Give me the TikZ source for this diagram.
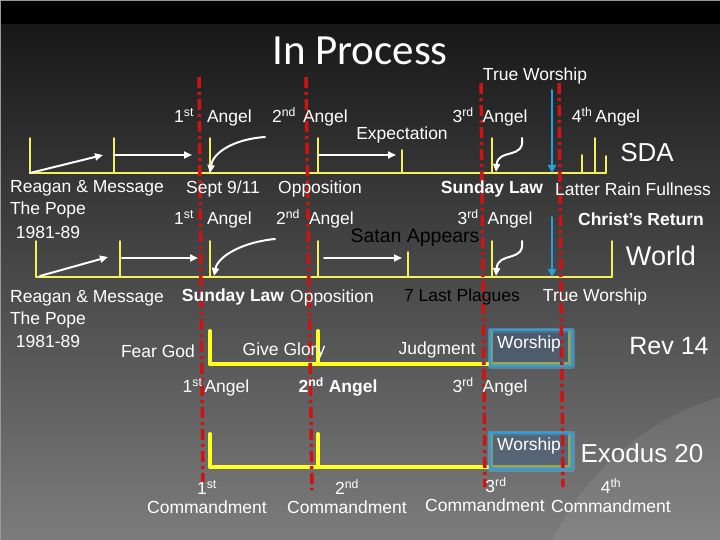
\documentclass[tikz,border=0pt]{standalone}
\usepackage{fontspec}
\setmainfont{Liberation Sans}
\newfontfamily\titlefont{Carlito}
\usetikzlibrary{arrows.meta,positioning}
\definecolor{tlbgtop}{HTML}{181818}
\definecolor{tlbgbot}{HTML}{7C7C7C}
\definecolor{tlyellow}{HTML}{F4F05A}
\definecolor{tlbright}{HTML}{FFFF22}
\definecolor{tlred}{HTML}{D01212}
\definecolor{tlblue}{HTML}{2C9EE0}
\definecolor{tlbox}{HTML}{46607E}
\tikzset{
  every picture/.append style={line cap=round,line join=round},
  tl track/.style={tlyellow,line width=1.8pt},
  tl bold track/.style={tlbright,line width=4pt},
  tl guide/.style={tlred,line width=3.5pt,line cap=butt,dash pattern=on 11pt off 4pt on 3pt off 4pt},
  tl move/.style={white,line width=2pt,-{Triangle[length=8pt,width=7pt]}},
  tl fall/.style={tlblue,line width=2pt,-{Triangle[length=8pt,width=8pt]}},
  tl text/.style={text=white,font=\fontsize{17.5}{19}\selectfont,inner sep=0pt,align=center},
  tl strong/.style={tl text,font=\fontsize{17.5}{19}\selectfont\bfseries},
  tl dark/.style={tl text,text=black},
  tl big/.style={text=white,font=\fontsize{26}{30}\selectfont,inner sep=0pt},
  tl worship/.style={draw=tlblue,line width=1.6pt,fill=tlbox,fill opacity=.55,inner sep=0pt,
    minimum width=82pt,minimum height=36pt,preaction={draw=tlblue!70,line width=5pt,draw opacity=.4}}
}
\newcommand\ordl[2]{#1\textsuperscript{#2}}

\begin{document}
\begin{tikzpicture}[x=1pt,y=-1pt]
  \useasboundingbox (0,0) rectangle (720,540);
  % backdrop
  \fill[black] (0,0) rectangle (720,25);
  \shade[top color=tlbgtop,bottom color=tlbgbot] (0,25) rectangle (720,540);
  \begin{scope}
    \clip (0,25) rectangle (720,540);
    \fill[white,opacity=.07] (800,660) circle (275);
  \end{scope}
  \draw[gray!80,line width=1.5pt] (0,540) -- (0,0) -- (720,0);

  % the four tracks
  \draw[tl track] (30,173) -- (606,173);
  \foreach \x/\t in {30/138,114/138,210/138,318/138,402/150,492/138,582/155,595/138,606/156}
    \draw[tl track] (\x,\t) -- (\x,173);
  \draw[tl track] (36,277) -- (612,277);
  \foreach \x/\t in {36/241,120/241,210/241,318/241,408/252,492/241,612/241}
    \draw[tl track] (\x,\t) -- (\x,277);
  \draw[tl bold track] (210,364) -- (571,364);
  \draw[tl bold track] (210,467) -- (571,467);
  \foreach \x in {210,318,491,570} {
    \draw[tl bold track] (\x,331) -- (\x,364);
    \draw[tl bold track] (\x,434) -- (\x,467);
  }
  \node[tl worship] (box1) at (531,348) {};
  \node[tl worship] (box2) at (531,451) {};

  % angel guides
  \foreach \n/\xt/\yt/\xb/\yb in {1/199/77/203/482,2/306/77/312/490,3/481/83/485/487,4/559/83/563/487} {
    \coordinate (g\n t) at (\xt,\yt);
    \coordinate (g\n b) at (\xb,\yb);
    \draw[tl guide] (g\n t) -- (g\n b);
  }

  % row 1 moves
  \coordinate (p1a) at (30,173);  \coordinate (p1b) at (103,155);
  \coordinate (p1c) at (114,155); \coordinate (p1d) at (192,155);
  \coordinate (p1e) at (265,137); \coordinate (p1f) at (210,173);
  \coordinate (p1g) at (318,155); \coordinate (p1h) at (396,155);
  \coordinate (p1i) at (522,138); \coordinate (p1j) at (496,172);
  \coordinate (p1k) at (552,90);  \coordinate (p1l) at (552,173);
  \draw[tl move] (p1a) -- (p1b);
  \draw[tl move] (p1c) -- (p1d);
  \draw[tl move] (p1e) .. controls (235,139) and (213,152) .. (p1f);
  \draw[tl move] (p1g) -- (p1h);
  \draw[tl move] (p1i) .. controls (525,160) and (498,148) .. (p1j);
  \draw[tl fall] (p1k) -- (p1l);

  % row 2 moves
  \coordinate (p2a) at (40,276);  \coordinate (p2b) at (108,257);
  \coordinate (p2c) at (122,258); \coordinate (p2d) at (198,258);
  \coordinate (p2e) at (275,239); \coordinate (p2f) at (214,276);
  \coordinate (p2g) at (324,258); \coordinate (p2h) at (402,258);
  \coordinate (p2i) at (522,241); \coordinate (p2j) at (496,276);
  \coordinate (p2k) at (552,217); \coordinate (p2l) at (552,277);
  \draw[tl move] (p2a) -- (p2b);
  \draw[tl move] (p2c) -- (p2d);
  \draw[tl move] (p2e) .. controls (243,242) and (218,256) .. (p2f);
  \draw[tl move] (p2g) -- (p2h);
  \draw[tl move] (p2i) .. controls (525,263) and (498,251) .. (p2j);
  \draw[tl fall] (p2k) -- (p2l);

  % labels, top
  \node[text=white,font=\titlefont\fontsize{43}{46}\selectfont,inner sep=0pt] (title) at (360,51) {In Process};
  \node[tl text] (tw1) at (535,76) {True Worship};
  \node[tl text] (a1) at (213,117) {\ordl{1}{st}\hspace{13pt}Angel};
  \node[tl text] (a2) at (310,117) {\ordl{2}{nd}\hspace{7pt}Angel};
  \node[tl text] (a3) at (490,117) {\ordl{3}{rd}\hspace{9pt}Angel};
  \node[tl text] (a4) at (606,117) {\ordl{4}{th}\hspace{3pt}Angel};
  \node[tl text] (expect) at (402,135) {Expectation};
  \node[tl big] (sda) at (647,153) {SDA};

  % labels, second row
  \node[tl text] (reagan1) at (87,188) {Reagan \& Message};
  \node[tl text] (pope1) at (48,210) {The Pope};
  \node[tl text] (yrs1) at (48,232) {1981-89};
  \node[tl text] (sept) at (223,189) {Sept 9/11};
  \node[tl text] (opp1) at (320,189) {Opposition};
  \node[tl strong] (sun1) at (492,189) {Sunday Law};
  \node[tl text] (rain) at (633,189) {Latter Rain Fullness};
  \node[tl text] (b1) at (213,219) {\ordl{1}{st}\hspace{13pt}Angel};
  \node[tl text] (b2) at (315,219) {\ordl{2}{nd}\hspace{9pt}Angel};
  \node[tl text] (b3) at (495,219) {\ordl{3}{rd}\hspace{9pt}Angel};
  \node[tl strong] (christ) at (641,219) {Christ’s Return};
  \node[tl dark,font=\fontsize{19.5}{22}\selectfont] (satan) at (415,238) {Satan Appears};
  \node[tl big,font=\fontsize{27}{30}\selectfont] (world) at (661,256) {World};

  % labels, third row
  \node[tl text] (reagan2) at (87,298) {Reagan \& Message};
  \node[tl text] (pope2) at (48,320) {The Pope};
  \node[tl text] (yrs2) at (48,341) {1981-89};
  \node[tl strong] (sun2) at (233,297) {Sunday Law};
  \node[tl text] (opp2) at (332,298) {Opposition};
  \node[tl dark] (plagues) at (462,297) {7 Last Plagues};
  \node[tl text] (tw2) at (595,297) {True Worship};
  \node[tl big,font=\fontsize{25}{28}\selectfont] (rev) at (669,346) {Rev 14};
  \node[tl text] (fear) at (158,351) {Fear God};
  \node[tl text] (glory) at (284,351) {Give Glory};
  \node[tl text] (judg) at (437,350) {Judgment};
  \node[tl text] (wor1) at (529,344) {Worship};
  \node[tl text] (c1) at (216,387) {\ordl{1}{st}\hspace{2pt}Angel};
  \node[tl strong] (c2) at (338,387) {\ordl{2}{nd}\hspace{5pt}Angel};
  \node[tl text] (c3) at (490,387) {\ordl{3}{rd}\hspace{9pt}Angel};

  % labels, commandments
  \node[tl text] (wor2) at (529,446) {Worship};
  \node[tl big] (exodus) at (642,453) {Exodus 20};
  \node[tl text] (d1) at (207,497) {\ordl{1}{st}\\Commandment};
  \node[tl text] (d2) at (347,497) {\ordl{2}{nd}\\Commandment};
  \node[tl text] (d3) at (485,495) {\hspace{22pt}\ordl{3}{rd}\\Commandment};
  \node[tl text] (d4) at (611,496) {\ordl{4}{th}\\Commandment};
\end{tikzpicture}
\end{document}
